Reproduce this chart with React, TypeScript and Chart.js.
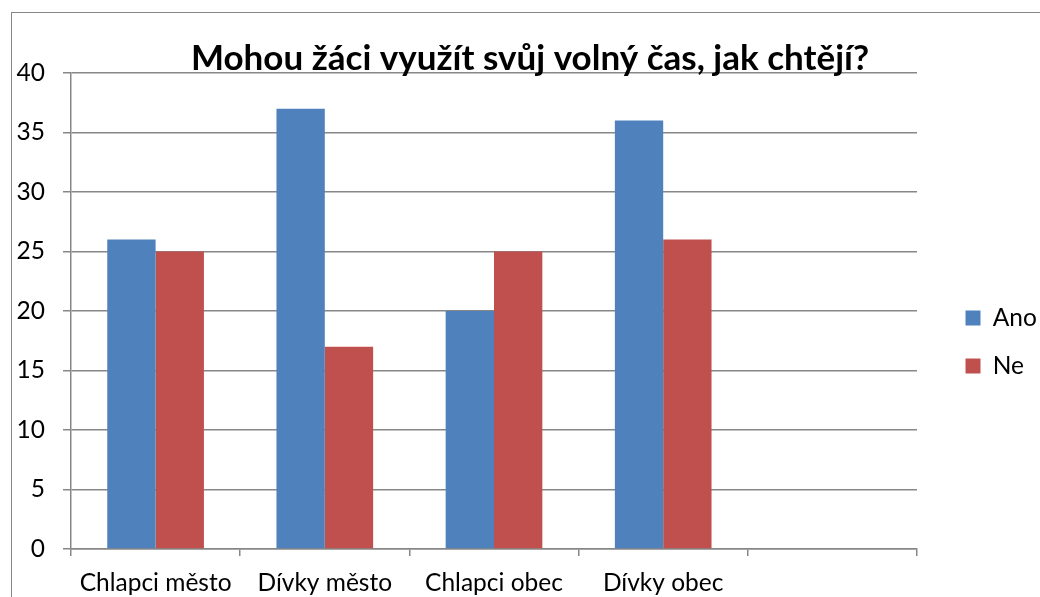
import { useEffect, useRef } from "react";
import { Chart, registerables } from "chart.js";

Chart.register(...registerables);

const TITLE = "Mohou žáci využít svůj volný čas, jak chtějí?";
const categories = ["Chlapci město", "Dívky město", "Chlapci obec", "Dívky obec", ""];
const seriesNames = ["Ano", "Ne"];
const anoValues = [26, 37, 20, 36];
const neValues = [25, 17, 25, 26];
const yMin = 0;
const yMax = 40;
const yStep = 5;

const BLUE = "#4F81BD";
const RED = "#C0504D";
const GRID = "#878787";
const FONT = "Lato, 'Noto Sans', sans-serif";

export default function App() {
  const ref = useRef<HTMLCanvasElement>(null);

  useEffect(() => {
    const chart = new Chart(ref.current as HTMLCanvasElement, {
      type: "bar",
      data: {
        labels: categories,
        datasets: [
          {
            label: seriesNames[0],
            data: anoValues,
            backgroundColor: BLUE,
            borderWidth: 0,
            categoryPercentage: 0.5714,
            barPercentage: 1,
          },
          {
            label: seriesNames[1],
            data: neValues,
            backgroundColor: RED,
            borderWidth: 0,
            categoryPercentage: 0.5714,
            barPercentage: 1,
          },
        ],
      },
      options: {
        responsive: false,
        animation: false,
        layout: { padding: { left: 16, right: 0, top: 13, bottom: 0 } },
        plugins: {
          title: {
            display: true,
            text: TITLE,
            color: "#000",
            font: { family: FONT, size: 35, weight: "bold", lineHeight: 0.8 },
            padding: { top: 31.5, bottom: 0.5 },
          },
          legend: {
            position: "right",
            align: "center",
            maxWidth: 102,
            labels: {
              boxWidth: 15,
              boxHeight: 15,
              padding: 23.5,
              color: "#000",
              font: { family: FONT, size: 24.5 },
            },
          },
          tooltip: { enabled: false },
        },
        scales: {
          x: {
            grid: {
              display: true,
              drawOnChartArea: false,
              drawTicks: true,
              tickLength: 7,
              offset: true,
              color: GRID,
              lineWidth: 1.5,
            },
            border: { display: true, color: GRID, width: 1.5 },
            ticks: {
              color: "#000",
              font: { family: FONT, size: 24.5 },
              padding: 12,
              autoSkip: false,
              maxRotation: 0,
              minRotation: 0,
            },
            afterFit: (s: any) => {
              s.height = 122;
            },
          },
          y: {
            min: yMin,
            max: yMax,
            ticks: {
              stepSize: yStep,
              color: "#000",
              font: { family: FONT, size: 24.5 },
              padding: 18,
            },
            grid: { color: GRID, tickLength: 8, lineWidth: 1.5 },
            border: { display: true, color: GRID, width: 1.5 },
            afterFit: (s: any) => {
              s.width = 55;
            },
          },
          y2: {
            position: "right",
            display: true,
            grid: { display: false },
            ticks: { display: false },
            border: { display: false },
            afterFit: (s: any) => {
              s.width = 25;
            },
          },
        },
      } as any,
    });
    return () => chart.destroy();
  }, []);

  return (
    <div
      style={{
        position: "fixed",
        left: 0,
        top: 0,
        width: 1040,
        height: 597,
        overflow: "hidden",
        background: "#fff",
      }}
    >
      <div
        style={{
          position: "absolute",
          left: 11,
          top: 12,
          width: 1100,
          height: 700,
          border: `1px solid ${GRID}`,
          boxSizing: "border-box",
        }}
      />
      <canvas
        ref={ref}
        width={1044}
        height={671}
        style={{ position: "absolute", left: 0, top: 0 }}
      />
    </div>
  );
}
